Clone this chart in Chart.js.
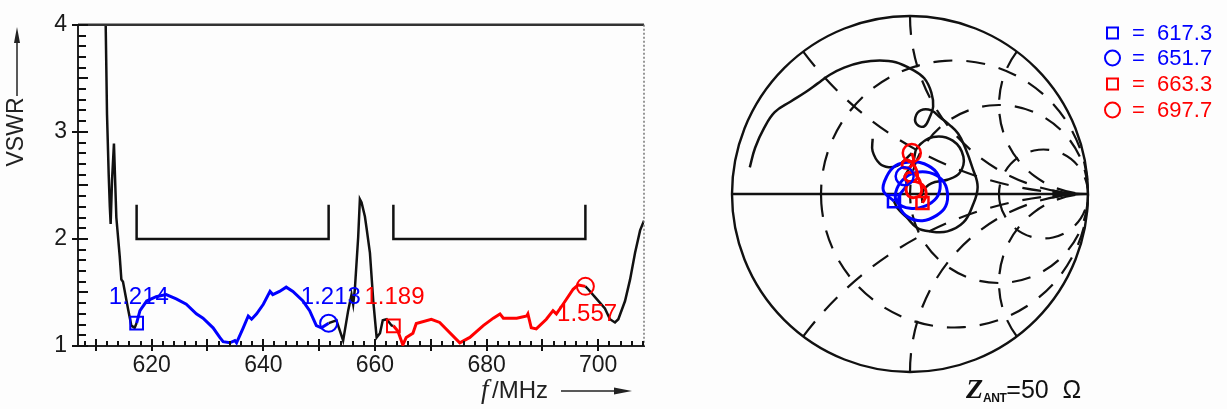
<!DOCTYPE html>
<html>
<head>
<meta charset="utf-8">
<script src="https://cdn.jsdelivr.net/npm/chart.js@4.4.0/dist/chart.umd.min.js"></script>
<style>
  html, body { margin: 0; padding: 0; background: #fdfdfd; }
  #wrap { position: relative; width: 1227px; height: 409px; overflow: hidden; font-family: "Liberation Sans", Arial, sans-serif; }
  #vswrChart { position: absolute; left: 0; top: 0; }
  #smithChart { position: absolute; left: 712px; top: 0; }
  .leg { position: absolute; font-size: 22px; line-height: 22px; transform: translateY(-50%); white-space: nowrap; }
  .sq { position: absolute; width: 9px; height: 9px; border: 2px solid; transform: translateY(-50%); }
  .ci { position: absolute; width: 13px; height: 13px; border: 2px solid; border-radius: 50%; transform: translateY(-50%); }
  .blue { color: rgb(0, 0, 255); border-color: rgb(0, 0, 255); }
  .red { color: rgb(255, 0, 0); border-color: rgb(255, 0, 0); }
  #zant { position: absolute; left: 966px; top: 376px; font-size: 25px; line-height: 26px; color: #111; white-space: nowrap; }
  #zant i { font-family: "Liberation Serif", serif; font-weight: bold; font-size: 28px; }
  #zant sub { font-size: 12px; font-weight: bold; vertical-align: -4px; letter-spacing: -0.5px; }
</style>
</head>
<body>
<div id="wrap">
  <canvas id="vswrChart" width="700" height="409"></canvas>
  <canvas id="smithChart" width="420" height="409"></canvas>

  <span class="sq blue" style="left:1106px; top:33px;"></span>
  <span class="leg blue" style="left:1132px; top:33px;">=&nbsp;&nbsp;617.3</span>
  <span class="ci blue" style="left:1104px; top:58px;"></span>
  <span class="leg blue" style="left:1132px; top:58px;">=&nbsp;&nbsp;651.7</span>
  <span class="sq red" style="left:1106px; top:84px;"></span>
  <span class="leg red" style="left:1132px; top:84px;">=&nbsp;&nbsp;663.3</span>
  <span class="ci red" style="left:1104px; top:110px;"></span>
  <span class="leg red" style="left:1132px; top:110px;">=&nbsp;&nbsp;697.7</span>

  <div id="zant"><i>Z</i><sub>ANT</sub>=50&nbsp;&nbsp;Ω</div>
</div>

<script>
// VSWR sweep, split where the marker frequencies are
const blackLowF = [611.5, 611.76, 612.0, 612.3, 612.5, 612.65, 612.9, 613.24, 613.45, 613.67, 614.27, 614.57, 614.86, 615.75, 616.36, 616.95, 617.3];
const blackLowV = [4.5, 4.0, 3.16, 2.6, 2.3, 2.14, 2.55, 2.89, 2.55, 2.2, 1.84, 1.62, 1.6, 1.35, 1.19, 1.17, 1.214];

const blueF = [617.3, 617.9, 619.1, 620.8, 622.6, 624.4, 626.2, 628.0, 629.2, 631.0, 632.2, 632.8, 634.0, 634.9, 635.2, 636.4, 637.3, 637.9, 638.8, 640.0, 641.2, 641.7, 642.9, 644.1, 645.3, 647.1, 648.3, 649.5, 650.4, 651.7];
const blueV = [1.214, 1.33, 1.42, 1.46, 1.48, 1.44, 1.39, 1.30, 1.26, 1.17, 1.08, 1.04, 1.03, 1.05, 1.03, 1.17, 1.28, 1.25, 1.30, 1.39, 1.51, 1.48, 1.51, 1.55, 1.51, 1.42, 1.33, 1.19, 1.17, 1.213];

const blackMidF = [651.7, 653.1, 654.3, 655.2, 655.8, 656.1, 656.4, 657.0, 657.3, 657.6, 658.2, 658.5, 659.1, 659.7, 660.3, 660.9, 661.4, 662.1, 663.0, 663.3];
const blackMidV = [1.213, 1.24, 1.05, 1.33, 1.48, 1.39, 1.53, 2.02, 2.37, 2.34, 2.21, 2.10, 1.87, 1.42, 1.08, 1.12, 1.24, 1.25, 1.19, 1.189];

const redF = [663.3, 664.1, 665.0, 665.6, 666.8, 667.4, 670.1, 671.6, 675.2, 677.0, 679.4, 681.2, 682.4, 683.0, 685.4, 687.2, 687.4, 688.0, 688.9, 690.7, 691.9, 692.5, 693.7, 695.5, 696.4, 697.7];
const redV = [1.189, 1.14, 1.01, 1.08, 1.12, 1.21, 1.25, 1.22, 1.03, 1.08, 1.19, 1.26, 1.30, 1.26, 1.26, 1.28, 1.30, 1.17, 1.16, 1.25, 1.33, 1.30, 1.39, 1.53, 1.57, 1.557];

const blackHighF = [697.7, 698.2, 699.7, 701.2, 702.1, 703.0, 703.6, 704.8, 705.7, 706.6, 707.5, 708.2];
const blackHighV = [1.557, 1.53, 1.44, 1.35, 1.25, 1.22, 1.25, 1.42, 1.62, 1.87, 2.08, 2.17];

// markers
const markerF = [617.3, 651.7, 663.3, 697.7];
const markerV = [1.214, 1.213, 1.189, 1.557];
const markerText = ['1.214', '1.213', '1.189', '1.557'];

// band brackets
const bandStart = [617.3, 663.3];
const bandEnd = [651.7, 697.7];
const bandLow = 2.0;
const bandHigh = 2.32;

const xTickValues = [620, 640, 660, 680, 700];
const yTickValues = [1, 2, 3, 4];

// reflection coefficient locus (re, im)
const smithLowRe = [-0.90, -0.87, -0.82, -0.76, -0.67, -0.59, -0.52, -0.45, -0.37, -0.27, -0.17, -0.08, 0.01, 0.08, 0.12, 0.13, 0.11, 0.08, 0.04, 0.03, 0.06, 0.12, 0.17, 0.22, 0.27, 0.31, 0.35, 0.38, 0.35, 0.30, 0.21, 0.11, 0.04, -0.02, -0.07, -0.09];
const smithLowIm = [0.15, 0.26, 0.37, 0.46, 0.52, 0.57, 0.62, 0.67, 0.71, 0.74, 0.75, 0.74, 0.70, 0.65, 0.57, 0.49, 0.43, 0.38, 0.39, 0.43, 0.47, 0.47, 0.43, 0.39, 0.34, 0.26, 0.15, 0.04, -0.07, -0.16, -0.21, -0.21, -0.19, -0.13, -0.08, -0.04];

const smithBlueRe = [-0.09, -0.15, -0.13, -0.08, 0.00, 0.08, 0.15, 0.17, 0.15, 0.08, 0.00, -0.07, -0.08, -0.04, 0.03, 0.11, 0.18, 0.21, 0.20, 0.15, 0.07, -0.01, -0.06, -0.06, -0.02, -0.03];
const smithBlueIm = [-0.04, 0.02, 0.10, 0.16, 0.18, 0.17, 0.12, 0.05, -0.02, -0.07, -0.08, -0.05, 0.01, 0.08, 0.12, 0.12, 0.08, 0.01, -0.07, -0.12, -0.15, -0.13, -0.07, -0.01, 0.05, 0.10];

const smithMidRe = [-0.03, 0.02, 0.04, 0.13, 0.24, 0.30, 0.28, 0.21, 0.12, 0.07, 0.07];
const smithMidIm = [0.10, 0.19, 0.26, 0.32, 0.30, 0.21, 0.12, 0.08, 0.06, 0.01, -0.05];

const smithRedRe = [0.07, 0.09, 0.08, 0.03, -0.01, -0.02, 0.01, 0.06, 0.06, 0.03, -0.01, -0.03, 0.00, 0.04, 0.03, -0.01, -0.04, -0.04, 0.00, 0.02, 0.01];
const smithRedIm = [-0.05, -0.01, 0.04, 0.07, 0.06, 0.01, -0.02, 0.00, 0.06, 0.11, 0.12, 0.09, 0.07, 0.09, 0.15, 0.19, 0.18, 0.15, 0.15, 0.19, 0.23];

const smithHighRe = [0.01, -0.03, -0.07, -0.12, -0.17, -0.21, -0.21];
const smithHighIm = [0.23, 0.19, 0.16, 0.15, 0.17, 0.24, 0.31];

const smithMarkerRe = [-0.09, -0.03, 0.07, 0.01];
const smithMarkerIm = [-0.04, 0.10, -0.05, 0.23];

// chart grid: constant resistance circles and reactance arcs
const gridR = [1 / 3, 1, 3];
const gridX = [0.5, 1, 2, -0.5, -1, -2];

const BLUE = 'rgb(0, 0, 255)';
const RED = 'rgb(255, 0, 0)';
const INK = '#111';
const markerStyle = ['rect', 'circle', 'rect', 'circle'];
const markerColor = [BLUE, BLUE, RED, RED];

function pts(xs, ys) {
    return xs.map((x, i) => ({ x: x, y: ys[i] }));
}

function curve(xs, ys, color, width, tension) {
    return {
        data: pts(xs, ys),
        borderColor: color,
        borderWidth: width,
        pointRadius: 0,
        showLine: true,
        fill: false,
        tension: tension
    };
}

function bracket(i) {
    return curve([bandStart[i], bandStart[i], bandEnd[i], bandEnd[i]], [bandHigh, bandLow, bandLow, bandHigh], INK, 2.5, 0);
}

const vswrDecor = {
    id: 'vswrDecor',
    afterDraw(chart) {
        const ctx = chart.ctx;
        const area = chart.chartArea;
        const xs = chart.scales.x;
        const ys = chart.scales.y;
        ctx.save();

        // frame
        ctx.strokeStyle = '#333';
        ctx.lineWidth = 2.5;
        ctx.beginPath();
        ctx.moveTo(area.left, area.top);
        ctx.lineTo(area.right, area.top);
        ctx.stroke();
        ctx.strokeStyle = '#777';
        ctx.lineWidth = 1.5;
        ctx.setLineDash([2, 2]);
        ctx.beginPath();
        ctx.moveTo(area.right, area.top);
        ctx.lineTo(area.right, area.bottom);
        ctx.stroke();
        ctx.setLineDash([]);

        // tick marks
        ctx.strokeStyle = '#111';
        ctx.lineWidth = 2;
        ctx.beginPath();
        for (let f = Math.ceil(xs.min / 2) * 2; f <= xs.max; f += 2) {
            const p = Math.round(xs.getPixelForValue(f));
            const major = f % 10 === 0;
            ctx.moveTo(p, area.bottom - (major ? 7 : 5));
            ctx.lineTo(p, area.bottom + (major ? 5 : 0));
        }
        for (let i = 10; i <= 40; i++) {
            const p = Math.round(ys.getPixelForValue(i / 10));
            const whole = i % 10 === 0;
            ctx.moveTo(area.left - (whole ? 6 : 0), p);
            ctx.lineTo(area.left + (i % 5 === 0 ? 10 : 8), p);
        }
        ctx.stroke();

        // marker values
        const labelAt = [[617.7, 1.45], [652.1, 1.45], [663.5, 1.45], [698.0, 1.30]];
        ctx.font = '24px "Liberation Sans", Arial, sans-serif';
        ctx.textAlign = 'center';
        ctx.textBaseline = 'middle';
        markerText.forEach((t, i) => {
            ctx.fillStyle = markerColor[i];
            ctx.fillText(t, xs.getPixelForValue(labelAt[i][0]), ys.getPixelForValue(labelAt[i][1]));
        });

        // axis titles with arrows
        ctx.fillStyle = '#222';
        ctx.strokeStyle = '#222';
        ctx.lineWidth = 1.5;
        ctx.save();
        ctx.translate(17, 132);
        ctx.rotate(-Math.PI / 2);
        ctx.font = '23px "Liberation Sans", Arial, sans-serif';
        ctx.fillText('VSWR', 0, 0);
        ctx.restore();
        ctx.beginPath();
        ctx.moveTo(17, 96);
        ctx.lineTo(17, 40);
        ctx.stroke();
        ctx.beginPath();
        ctx.moveTo(17, 27);
        ctx.lineTo(14, 43);
        ctx.lineTo(20, 43);
        ctx.closePath();
        ctx.fill();

        ctx.textAlign = 'left';
        ctx.font = 'italic 27px "Liberation Serif", serif';
        ctx.fillText('f', 481, 391);
        ctx.font = '24px "Liberation Sans", Arial, sans-serif';
        ctx.fillText('/MHz', 492, 391);
        ctx.beginPath();
        ctx.moveTo(561, 391);
        ctx.lineTo(618, 391);
        ctx.stroke();
        ctx.beginPath();
        ctx.moveTo(632, 391);
        ctx.lineTo(614, 387.5);
        ctx.lineTo(614, 394.5);
        ctx.closePath();
        ctx.fill();

        ctx.restore();
    }
};

new Chart(document.getElementById('vswrChart'), {
    type: 'line',
    data: {
        datasets: [
            {
                data: pts(markerF, markerV),
                showLine: false,
                pointStyle: markerStyle,
                pointRadius: [9, 8.5, 9, 8.5],
                pointBorderColor: markerColor,
                pointBackgroundColor: 'rgba(0,0,0,0)',
                pointBorderWidth: 2
            },
            curve(blueF, blueV, BLUE, 3, 0),
            curve(redF, redV, RED, 3, 0),
            curve(blackLowF, blackLowV, INK, 2.5, 0),
            curve(blackMidF, blackMidV, INK, 2.5, 0),
            curve(blackHighF, blackHighV, INK, 2.5, 0),
            bracket(0),
            bracket(1)
        ]
    },
    options: {
        responsive: false,
        animation: false,
        devicePixelRatio: 1,
        layout: { padding: { left: 0, top: 15, right: 56, bottom: 0 } },
        plugins: { legend: { display: false }, tooltip: { enabled: false } },
        scales: {
            x: {
                type: 'linear',
                min: 606.8,
                max: 708.2,
                afterBuildTicks: s => { s.ticks = xTickValues.map(v => ({ value: v })); },
                afterFit: s => { s.height = 63; },
                grid: { display: false, drawTicks: false },
                border: { display: true, color: '#222', width: 2 },
                ticks: {
                    color: '#1a1a1a',
                    padding: 6,
                    maxRotation: 0,
                    autoSkip: false,
                    font: { family: '"Liberation Sans", Arial, sans-serif', size: 23 }
                }
            },
            y: {
                type: 'linear',
                min: 1,
                max: 4,
                afterBuildTicks: s => { s.ticks = yTickValues.map(v => ({ value: v })); },
                afterFit: s => { s.width = 78; },
                grid: { display: false, drawTicks: false },
                border: { display: true, color: '#222', width: 2 },
                ticks: {
                    color: '#1a1a1a',
                    padding: 11,
                    font: { family: '"Liberation Sans", Arial, sans-serif', size: 23 }
                }
            }
        }
    },
    plugins: [vswrDecor]
});

const smithGrid = {
    id: 'smithGrid',
    beforeDatasetsDraw(chart) {
        const ctx = chart.ctx;
        const px = v => chart.scales.x.getPixelForValue(v);
        const py = v => chart.scales.y.getPixelForValue(v);
        const unit = px(1) - px(0);
        ctx.save();
        ctx.strokeStyle = INK;
        ctx.lineWidth = 2.2;

        ctx.setLineDash([19, 14]);
        gridR.forEach(r => {
            const R = unit / (1 + r);
            const a0 = Math.PI - 9.5 / R;
            ctx.beginPath();
            ctx.arc(px(r / (1 + r)), py(0), R, a0, a0 + 2 * Math.PI);
            ctx.stroke();
        });
        gridX.forEach(xv => {
            const cx = px(1);
            const cy = py(1 / xv);
            const R = unit / Math.abs(xv);
            const d = xv * xv + 1;
            const ix = px((xv * xv - 1) / d);
            const iy = py(2 * xv / d);
            const a0 = Math.atan2(iy - cy, ix - cx);
            const a1 = xv > 0 ? Math.PI / 2 : -Math.PI / 2;
            ctx.beginPath();
            ctx.arc(cx, cy, R, a0, a1, xv > 0);
            ctx.stroke();
        });

        ctx.setLineDash([]);
        ctx.lineWidth = 2.4;
        ctx.beginPath();
        ctx.arc(px(0), py(0), unit, 0, 2 * Math.PI);
        ctx.stroke();
        ctx.beginPath();
        ctx.moveTo(px(-1), py(0));
        ctx.lineTo(px(1), py(0));
        ctx.stroke();
        ctx.fillStyle = INK;
        ctx.beginPath();
        ctx.moveTo(px(0.955), py(0));
        ctx.lineTo(px(0.80), py(0) - 4.5);
        ctx.lineTo(px(0.80), py(0) + 4.5);
        ctx.closePath();
        ctx.fill();
        ctx.restore();
    }
};

new Chart(document.getElementById('smithChart'), {
    type: 'scatter',
    data: {
        datasets: [
            {
                data: pts(smithMarkerRe, smithMarkerIm),
                showLine: false,
                pointStyle: markerStyle,
                pointRadius: [8.5, 9, 8.5, 9],
                pointBorderColor: markerColor,
                pointBackgroundColor: 'rgba(0,0,0,0)',
                pointBorderWidth: 2.5
            },
            curve(smithRedRe, smithRedIm, RED, 3, 0.4),
            curve(smithBlueRe, smithBlueIm, BLUE, 3, 0.4),
            curve(smithLowRe, smithLowIm, INK, 2.5, 0.4),
            curve(smithMidRe, smithMidIm, INK, 2.5, 0.4),
            curve(smithHighRe, smithHighIm, INK, 2.5, 0.4)
        ]
    },
    options: {
        responsive: false,
        animation: false,
        devicePixelRatio: 1,
        layout: { padding: { left: 20, top: 16, right: 44, bottom: 37 } },
        plugins: { legend: { display: false }, tooltip: { enabled: false } },
        scales: {
            x: { type: 'linear', display: false, min: -1, max: 1 },
            y: { type: 'linear', display: false, min: -1, max: 1 }
        }
    },
    plugins: [smithGrid]
});
</script>
</body>
</html>
